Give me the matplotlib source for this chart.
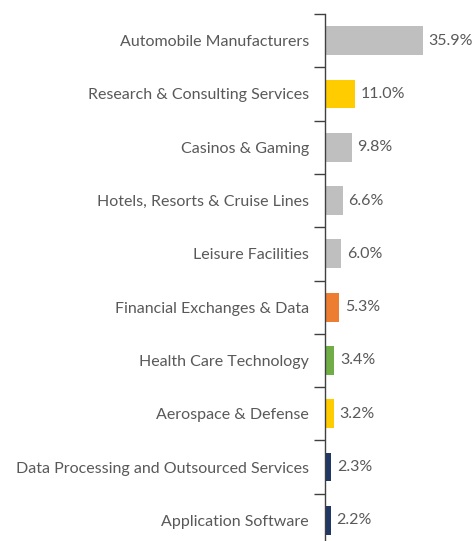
import matplotlib
matplotlib.use("Agg")
import matplotlib.pyplot as plt
import numpy as np

categories = [
    "Automobile Manufacturers",
    "Research & Consulting Services",
    "Casinos & Gaming",
    "Hotels, Resorts & Cruise Lines",
    "Leisure Facilities",
    "Financial Exchanges & Data",
    "Health Care Technology",
    "Aerospace & Defense",
    "Data Processing and Outsourced Services",
    "Application Software",
]
values = [35.9, 11.0, 9.8, 6.6, 6.0, 5.3, 3.4, 3.2, 2.3, 2.2]
colors = ["#BFBFBF", "#FFCC00", "#BFBFBF", "#BFBFBF", "#BFBFBF",
          "#ED7D31", "#70AD47", "#FFCC00", "#1F3864", "#1F3864"]

plt.rcParams['font.family'] = ['Lato', 'DejaVu Sans']

W, H = 472, 541
fig = plt.figure(figsize=(W / 100, H / 100), dpi=100)
# axis line at x=325px, top boundary at y=14px, row spacing ~53.3px
row = 53.3
left = 325 / W
top = 1 - 14 / H
height = row * len(categories) / H
ax = fig.add_axes([left, top - height, (W - 325) / W, height])

y = np.arange(len(categories))
ax.barh(y, values, height=0.54, color=colors)
ax.set_ylim(len(categories) - 0.5, -0.5)
ax.set_xlim(0, (W - 325) / 2.72)

for yi, v in zip(y, values):
    ax.annotate(f"{v:.1f}%", (v, yi), xytext=(4, 0), textcoords="offset points",
                va="center", ha="left", fontsize=11.5, color="#595959")

ax.set_yticks(y)
ax.set_yticklabels(categories, fontsize=11.5, color="#595959")
ax.set_yticks(np.arange(-0.5, len(categories), 1), minor=True)
ax.tick_params(axis="y", which="major", length=0, pad=11.5)
ax.tick_params(axis="y", which="minor", length=8, width=1, color="#404040")
ax.set_xticks([])
for s in ["top", "right", "bottom"]:
    ax.spines[s].set_visible(False)
ax.spines["left"].set_color("#404040")
ax.spines["left"].set_linewidth(1)

fig.savefig("out.png", dpi=100)
